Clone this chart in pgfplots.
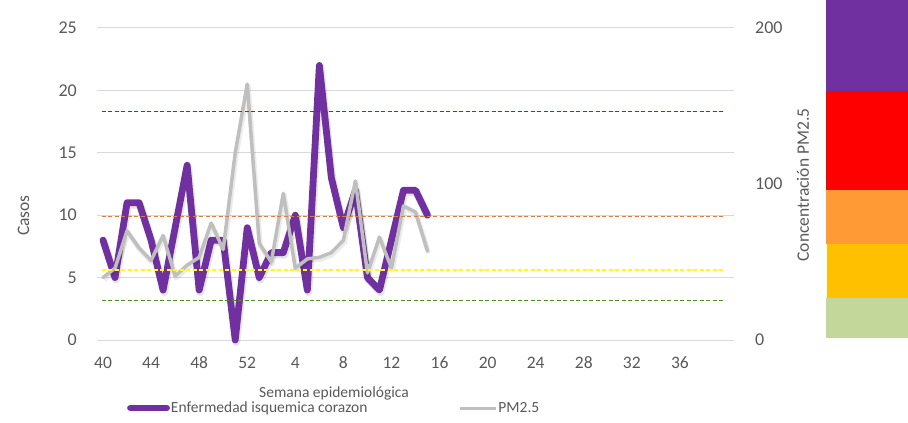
\documentclass[border=0pt]{standalone}
\usepackage{fontspec}
\setmainfont{Carlito}
\usepackage{pgfplots}
\pgfplotsset{compat=1.18}
\definecolor{txt}{HTML}{595959}
\definecolor{gridc}{HTML}{D9D9D9}
\definecolor{purp}{HTML}{7030A0}
\definecolor{pmc}{HTML}{BFBFBF}
\definecolor{cgreen}{HTML}{C4D79B}
\definecolor{cyellow}{HTML}{FFC000}
\definecolor{corange}{HTML}{FF9A35}
\definecolor{cred}{HTML}{FF0000}
\definecolor{dred}{HTML}{F00000}
\definecolor{dorange}{HTML}{E07B39}
\definecolor{dyellow}{HTML}{FFFF00}
\definecolor{dgreen}{HTML}{4E8F1F}
\pgfplotstableread{
i c
0 8
1 5
2 11
3 11
4 8
5 4
6 9
7 14
8 4
9 8
10 8
11 0
12 9
13 5
14 7
15 7
16 10
17 4
18 22
19 13
20 9
21 12
22 5
23 4
24 8
25 12
26 12
27 10
}\casos
\pgfplotstableread{
i pm
0 40
1 46
2 70
3 59
4 51
5 67
6 41
7 48
8 53
9 75
10 58
11 120
12 164
13 62
14 50
15 94
16 46
17 52
18 53
19 56
20 64
21 102
22 43
23 66
24 46
25 86
26 82
27 57
}\pmdata
\begin{document}
\begin{tikzpicture}[x=1bp,y=1bp]
\useasboundingbox (0,0) rectangle (908,422);
% colour bar
\begin{axis}[at={(826bp,82bp)}, anchor=south west, scale only axis,
  width=82bp, height=312bp, xmin=0, xmax=1, ymin=0, ymax=200,
  hide axis, clip=false]
\addplot[fill=cgreen, draw=none] coordinates {(0,1.5) (1,1.5) (1,27) (0,27)} -- cycle;
\addplot[fill=cyellow, draw=none] coordinates {(0.012,27) (1,27) (1,61.7) (0.012,61.7)} -- cycle;
\addplot[fill=corange, draw=none] coordinates {(0,61.7) (1,61.7) (1,96) (0,96)} -- cycle;
\addplot[fill=cred, draw=none] coordinates {(0,96) (1,96) (1,159.6) (0,159.6)} -- cycle;
\addplot[fill=purp, draw=none] coordinates {(0,159.6) (1,159.6) (1,217.9) (0,217.9)} -- cycle;
\end{axis}
% main axis (cases)
\begin{axis}[at={(97bp,82bp)}, anchor=south west, scale only axis,
  width=637bp, height=312bp,
  xmin=-0.5, xmax=52.5, ymin=0, ymax=25,
  axis line style={draw=none}, major tick length=0pt,
  xtick={0,4,...,48},
  xticklabels={40,44,48,52,4,8,12,16,20,24,28,32,36},
  ytick={0,5,...,25},
  ymajorgrids, grid style={draw=gridc, line width=1bp},
  /pgf/number format/assume math mode=true,
  xticklabel style={font=\fontsize{17.5bp}{20bp}\selectfont, text=txt, anchor=north, inner sep=0pt, yshift=-16.7bp},
  yticklabel style={font=\fontsize{18bp}{20bp}\selectfont, text=txt, anchor=east, inner sep=0pt, xshift=-20bp},
  clip=false,
  legend image code/.code={\draw[#1] (0bp,0bp) -- (36bp,0bp);},
  legend style={at={(rel axis cs:0.047,-0.218)}, anchor=west, draw=none, fill=none,
    inner sep=0pt, column sep=0pt, legend columns=2,
    nodes={inner sep=1bp, text=txt, font=\fontsize{15.5bp}{18bp}\selectfont},
    /tikz/every even column/.append style={column sep=90bp}},
]
\addplot[black, opacity=0.10, line width=8bp, line join=round, xshift=1bp, yshift=-2bp, forget plot] table[x=i, y=c] {\casos};
\addplot[purp, line width=6.8bp, line join=round, line cap=round] table[x=i, y=c] {\casos};
\addlegendentry{Enfermedad isquemica corazon}
\addlegendimage{pmc, line width=3bp}
\addlegendentry{PM2.5}
\end{axis}
% secondary axis (PM2.5)
\begin{axis}[at={(97bp,82bp)}, anchor=south west, scale only axis,
  width=637bp, height=312bp,
  xmin=-0.5, xmax=52.5, ymin=0, ymax=200,
  axis x line=none, axis y line*=right,
  axis line style={draw=none}, major tick length=0pt,
  ytick={0,100,200},
  /pgf/number format/assume math mode=true,
  yticklabel style={font=\fontsize{18bp}{20bp}\selectfont, text=txt, anchor=west, inner sep=0pt, xshift=21bp},
  clip=false]
\addplot[black, opacity=0.08, line width=5bp, line join=round, xshift=1bp, yshift=-2bp, forget plot] table[x=i, y=pm] {\pmdata};
\addplot[pmc, line width=3.5bp, line join=round, line cap=round] table[x=i, y=pm] {\pmdata};
\addplot[draw=dred, line width=1.4bp, dash pattern=on 4bp off 2.5bp] coordinates {(-0.1,146.6) (51.8,146.6)};
\addplot[draw=dorange, line width=1.3bp, dash pattern=on 4bp off 2.5bp] coordinates {(-0.1,79.0) (51.8,79.0)};
\addplot[draw=dyellow, line width=1.3bp, dash pattern=on 4bp off 2.5bp] coordinates {(-0.1,44.9) (51.8,44.9)};
\addplot[draw=dgreen, line width=1.1bp, dash pattern=on 4bp off 2.5bp] coordinates {(-0.1,25.6) (51.8,25.6)};
\end{axis}
% axis titles
\node[text=txt, font=\fontsize{17.5bp}{20bp}\selectfont, rotate=90] at (23.5,206.5) {Casos};
\node[text=txt, font=\fontsize{17.5bp}{20bp}\selectfont, rotate=90] at (803,237) {Concentración PM2.5};
\node[text=txt, font=\fontsize{15.5bp}{18bp}\selectfont] at (334,29) {Semana epidemiológica};
\end{tikzpicture}
\end{document}
